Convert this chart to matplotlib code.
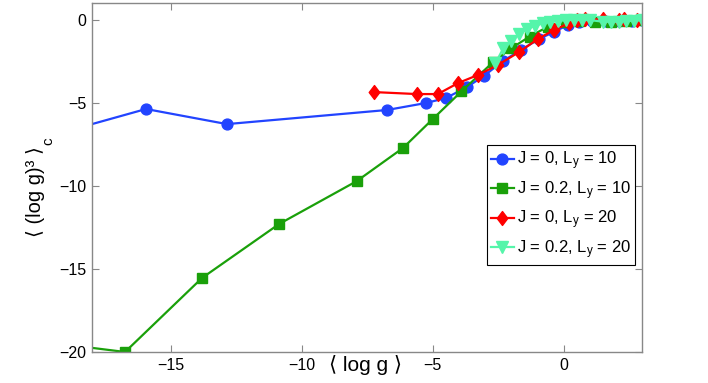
import matplotlib
matplotlib.use("Agg")
import matplotlib.pyplot as plt
from matplotlib.path import Path

plt.rcParams['font.family'] = ['Liberation Sans', 'DejaVu Sans']
plt.rcParams['mathtext.fontset'] = 'custom'
plt.rcParams['mathtext.rm'] = 'Liberation Sans'
plt.rcParams['mathtext.it'] = 'Liberation Sans'

# J = 0, Ly = 10
blue_x = [-19.5, -15.94, -12.85, -6.74, -5.26, -4.49, -3.69, -3.04, -2.32, -1.63, -0.94, -0.37, 0.16, 0.6, 1.1, 1.6, 2.1, 2.6, 3.0]
blue_y = [-6.93, -5.36, -6.27, -5.42, -5.0, -4.70, -4.04, -3.37, -2.47, -1.81, -1.14, -0.72, -0.30, -0.1, -0.05, -0.05, -0.05, -0.05, 0.0]
# J = 0.2, Ly = 10
green_x = [-20.0, -16.74, -13.8, -10.86, -7.89, -6.13, -4.99, -3.9, -2.7, -2.0, -1.3, -0.6, 0.1, 0.6, 1.2, 1.8, 2.4, 3.0]
green_y = [-19.36, -20.0, -15.54, -12.29, -9.70, -7.71, -5.96, -4.3, -2.55, -1.7, -1.0, -0.4, -0.1, -0.05, -0.1, -0.1, -0.05, 0.0]
# J = 0, Ly = 20
red_x = [-7.24, -5.60, -4.80, -4.03, -3.27, -2.51, -1.70, -0.98, -0.37, 0.2, 0.5, 0.8, 1.5, 2.1, 2.3, 2.8]
red_y = [-4.34, -4.46, -4.46, -3.80, -3.31, -2.71, -1.93, -1.14, -0.60, -0.2, 0.0, 0.05, 0.05, 0.0, 0.05, 0.0]
# J = 0.2, Ly = 20
cyan_x = [-2.6, -2.3, -2.0, -1.7, -1.4, -1.1, -0.8, -0.5, -0.2, 0.1, 0.4, 0.7, 1.0, 1.5, 1.8, 2.1, 2.4, 2.7, 3.0]
cyan_y = [-2.6, -1.7, -1.25, -0.85, -0.55, -0.35, -0.2, -0.1, -0.05, 0.0, 0.0, 0.0, 0.0, -0.1, -0.1, -0.1, -0.05, -0.05, 0.0]

labels = ['J = 0, L$_y$ = 10', 'J = 0.2, L$_y$ = 10', 'J = 0, L$_y$ = 20', 'J = 0.2, L$_y$ = 20']
xticks = [-15, -10, -5, 0]
yticks = [-20, -15, -10, -5, 0]

diamond = Path([(0, 1), (0.76, 0), (0, -1), (-0.76, 0), (0, 1)],
               [Path.MOVETO, Path.LINETO, Path.LINETO, Path.LINETO, Path.CLOSEPOLY])

fig = plt.figure(figsize=(7.08, 3.83), dpi=100)
ax = fig.add_axes([0.130, 0.081, 0.777, 0.910])

ax.plot(blue_x, blue_y, '-o', color='#2244ff', lw=1.6, ms=7.8, mec='#2244ff', label=labels[0])
ax.plot(green_x, green_y, '-s', color='#1aa00a', lw=1.6, ms=7, mec='#1aa00a', label=labels[1])
ax.plot(red_x, red_y, '-', marker=diamond, color='#ff0000', lw=1.6, ms=10, mec='#ff0000', label=labels[2])
ax.plot(cyan_x, cyan_y, '-v', color='#55f5aa', lw=1.6, ms=8, mec='#55f5aa', label=labels[3])

ax.set_xlim(-18, 3)
ax.set_ylim(-20, 1)
ax.set_xticks(xticks)
ax.set_yticks(yticks)
ax.set_xticklabels(['\u221215', '\u221210', '\u22125', '0'])
ax.set_yticklabels(['\u221220', '\u221215', '\u221210', '\u22125', '0'])
ax.tick_params(direction='in', top=True, right=True, length=5, width=0.8,
               color='#888888', labelsize=11.5, pad=4)
for s in ax.spines.values():
    s.set_color('#888888')
    s.set_linewidth(1.0)

fig.text(0.516, 0.047, '\u27e8 log g \u27e9', ha='center', va='center', fontsize=15)
ylab = fig.text(0.050, 0.50, '\u27e8 (log g)\u00b3 \u27e9', ha='center', va='center',
                rotation=90, fontsize=14.5)
fig.canvas.draw()
bb = ylab.get_window_extent()
W, H = fig.bbox.width, fig.bbox.height
fig.text((bb.x1 + 3) / W, (bb.y1 + 1) / H, 'c', ha='center', va='bottom',
         rotation=90, fontsize=11)

leg = ax.legend(loc='upper left', bbox_to_anchor=(0.718, 0.593), fontsize=12,
                frameon=True, fancybox=False, edgecolor='black', framealpha=1,
                handlelength=1.35, handletextpad=0.2, borderpad=0.25,
                labelspacing=0.42, borderaxespad=0)
leg.get_frame().set_linewidth(0.8)

fig.savefig('out.png', dpi=100)
